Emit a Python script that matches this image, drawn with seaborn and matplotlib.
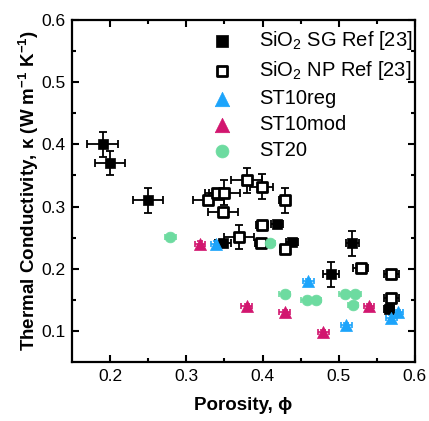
import matplotlib
matplotlib.use("Agg")
import matplotlib.pyplot as plt
import seaborn as sns
import numpy as np
import pandas as pd

sns.set_style("ticks")
plt.rcParams['font.family'] = ['Liberation Sans', 'DejaVu Sans']
plt.rcParams['mathtext.fontset'] = 'custom'
plt.rcParams['mathtext.rm'] = 'Liberation Sans'
plt.rcParams['mathtext.it'] = 'Liberation Sans:italic'
plt.rcParams['mathtext.bf'] = 'Liberation Sans:bold'
plt.rcParams['text.color'] = 'black'
plt.rcParams['axes.labelcolor'] = 'black'
plt.rcParams['xtick.color'] = 'black'
plt.rcParams['ytick.color'] = 'black'
plt.rcParams['axes.edgecolor'] = 'black'

# ---- data ----
sg_x = [0.19, 0.20, 0.25, 0.348, 0.419, 0.439, 0.518, 0.490, 0.566]
sg_y = [0.40, 0.37, 0.31, 0.242, 0.272, 0.243, 0.241, 0.191, 0.136]
sg_xerr = [0.02, 0.02, 0.02, 0.01, 0.008, 0.008, 0.009, 0.01, 0.006]
sg_yerr = [0.02, 0.02, 0.02, 0.005, 0.005, 0.005, 0.02, 0.02, 0.005]

np_x = [0.329, 0.340, 0.350, 0.348, 0.379, 0.399, 0.429, 0.369, 0.399, 0.398, 0.429, 0.529, 0.569, 0.569]
np_y = [0.310, 0.322, 0.322, 0.292, 0.342, 0.332, 0.310, 0.251, 0.271, 0.242, 0.231, 0.201, 0.191, 0.153]
np_xerr = [0.02, 0.015, 0.02, 0.02, 0.02, 0.015, 0.007, 0.02, 0.008, 0.008, 0.006, 0.01, 0.01, 0.01]
np_yerr = [0.005, 0.005, 0.02, 0.005, 0.02, 0.02, 0.02, 0.02, 0.005, 0.005, 0.005, 0.005, 0.005, 0.005]

reg_x = [0.339, 0.460, 0.510, 0.578, 0.569]
reg_y = [0.240, 0.180, 0.109, 0.130, 0.121]

mod_x = [0.318, 0.379, 0.429, 0.480, 0.540]
mod_y = [0.240, 0.140, 0.130, 0.098, 0.140]

st20_x = [0.279, 0.410, 0.429, 0.458, 0.470, 0.508, 0.522, 0.519]
st20_y = [0.251, 0.241, 0.160, 0.150, 0.150, 0.160, 0.160, 0.141]

labels = ["SiO$_2$ SG Ref [23]", "SiO$_2$ NP Ref [23]", "ST10reg", "ST10mod", "ST20"]
c_blue = "#1ca4fb"
c_mag = "#d2166f"
c_green = "#6ddba0"

fig = plt.figure(figsize=(4.29, 4.21), dpi=100)
ax = fig.add_axes([0.168, 0.140, 0.799, 0.8125])

# error bars
ax.errorbar(sg_x, sg_y, xerr=sg_xerr, yerr=sg_yerr, fmt='none', ecolor='black',
            elinewidth=1.3, capsize=3, capthick=1.3, zorder=2)
ax.errorbar(np_x, np_y, xerr=np_xerr, yerr=np_yerr, fmt='none', ecolor='black',
            elinewidth=1.3, capsize=3, capthick=1.3, zorder=2)
for xs, ys, c in [(reg_x, reg_y, c_blue), (mod_x, mod_y, c_mag), (st20_x, st20_y, c_green)]:
    ax.errorbar(xs, ys, xerr=0.007, yerr=0.004, fmt='none', ecolor=c,
                elinewidth=1.2, capsize=2.5, capthick=1.2, zorder=2)

sns.scatterplot(x=sg_x, y=sg_y, marker='s', s=60, color='black', edgecolor='black',
                linewidth=0.5, ax=ax, zorder=3, label=labels[0])
sns.scatterplot(x=np_x, y=np_y, marker='s', s=42, facecolor='white', edgecolor='black',
                linewidth=2.0, ax=ax, zorder=3, label=labels[1])
sns.scatterplot(x=reg_x, y=reg_y, marker='^', s=75, color=c_blue, edgecolor=c_blue,
                linewidth=0.5, ax=ax, zorder=3, label=labels[2])
sns.scatterplot(x=mod_x, y=mod_y, marker='^', s=75, color=c_mag, edgecolor=c_mag,
                linewidth=0.5, ax=ax, zorder=3, label=labels[3])
sns.scatterplot(x=st20_x, y=st20_y, marker='o', s=60, color=c_green, edgecolor=c_green,
                linewidth=0.5, ax=ax, zorder=3, label=labels[4])

ax.set_xlim(0.15, 0.6)
ax.set_ylim(0.05, 0.6)
ax.set_xticks([0.2, 0.3, 0.4, 0.5, 0.6])
ax.set_xticklabels(["0.2", "0.3", "0.4", "0.5", "0.6"])
ax.set_yticks([0.1, 0.2, 0.3, 0.4, 0.5, 0.6])
ax.set_yticklabels(["0.1", "0.2", "0.3", "0.4", "0.5", "0.6"])
ax.set_xticks(np.arange(0.25, 0.6, 0.1), minor=True)
ax.set_yticks(np.arange(0.15, 0.6, 0.1), minor=True)
ax.tick_params(which='both', direction='in', top=True, right=True, width=1.5,
               labelsize=12.5, colors='black')
ax.tick_params(which='major', length=5, pad=5)
ax.tick_params(which='minor', length=3)
for sp in ax.spines.values():
    sp.set_linewidth(1.6)
    sp.set_visible(True)
    sp.set_color('black')

ax.set_xlabel("Porosity, ϕ", fontsize=13.5, fontweight='bold', labelpad=9)
ax.set_ylabel("Thermal Conductivity, κ (W m$^{\\mathbf{-1}}$ K$^{\\mathbf{-1}}$)",
              fontsize=13.5, fontweight='bold', labelpad=0)

leg = ax.legend(loc='upper right', frameon=False, fontsize=14.5, handletextpad=1.1,
                labelspacing=0.35, borderaxespad=0.05, handlelength=1.5, markerscale=1.2,
                bbox_to_anchor=(1.02, 1.0))
for t in leg.get_texts():
    t.set_color('black')

fig.savefig("out.png", dpi=100)
